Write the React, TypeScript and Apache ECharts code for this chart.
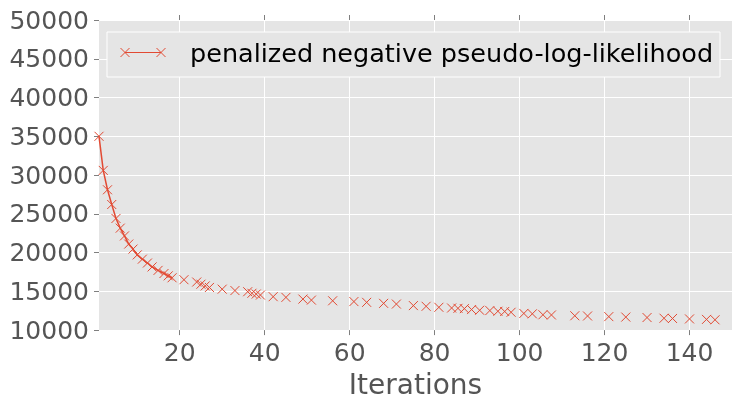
import React, { useEffect, useRef } from "react";
import * as echarts from "echarts";

const iterations = [1, 2, 3, 4, 5, 6, 7, 8, 9, 10, 11.2, 12.4, 13.5, 14.9, 16.3, 17.3, 18.2, 21, 24, 25, 26, 27, 30, 33, 36, 37, 38, 39, 42, 45, 49, 51, 56, 61, 64, 68, 71, 75, 78, 81, 84, 85.5, 87, 88.7, 90.6, 93, 94.9, 96.5, 98, 101, 103, 105.5, 107.5, 113, 116, 121, 125, 130, 134, 136, 140, 144, 146];
const likelihood = [35000, 30600, 28100, 26200, 24400, 23150, 22150, 21100, 20450, 19700, 19150, 18650, 18150, 17700, 17300, 17000, 16750, 16500, 16200, 15920, 15700, 15500, 15280, 15100, 14950, 14750, 14650, 14520, 14310, 14220, 14000, 13870, 13780, 13680, 13580, 13450, 13360, 13160, 13070, 12940, 12850, 12810, 12770, 12650, 12560, 12520, 12430, 12400, 12300, 12150, 12100, 11980, 11950, 11850, 11820, 11740, 11680, 11620, 11530, 11500, 11440, 11380, 11330];
const lineUntilIteration = 18.2;
const xTicks = [20, 40, 60, 80, 100, 120, 140];
const seriesName = "penalized negative pseudo-log-likelihood";
const xLabel = "Iterations";

const RED = "#E24A33";
const FONT = "DejaVu Sans";
const CROSS = "path://M0,0L10,10M10,0L0,10";

export default function App() {
  const ref = useRef<HTMLDivElement>(null);
  useEffect(() => {
    if (!ref.current) return;
    const chart = echarts.init(ref.current, undefined, { renderer: "svg" });
    const points = iterations.map((x, i) => [x, likelihood[i]]);
    const linePoints = points.filter((p) => p[0] <= lineUntilIteration);
    const s = 4.5;
    const cross = (cx: number, cy: number) => [
      { type: "line", z: 101, shape: { x1: cx - s, y1: cy - s, x2: cx + s, y2: cy + s }, style: { stroke: RED, fill: "none", lineWidth: 1 } },
      { type: "line", z: 101, shape: { x1: cx - s, y1: cy + s, x2: cx + s, y2: cy - s }, style: { stroke: RED, fill: "none", lineWidth: 1 } },
    ];
    chart.setOption({
      animation: false,
      grid: { left: 99, right: -1, top: 20, bottom: 70, show: true, backgroundColor: "#E5E5E5", borderWidth: 0 },
      xAxis: [
        {
          type: "value",
          min: 1,
          max: 150,
          position: "bottom",
          axisLine: { show: false },
          axisTick: { show: true, inside: false, length: 5, customValues: xTicks, lineStyle: { color: "#7f7f7f", width: 1 } },
          axisLabel: { customValues: xTicks, color: "#555555", fontSize: 25, fontFamily: FONT, margin: 10 },
          splitLine: { show: true, lineStyle: { color: "#ffffff", width: 1 } },
          name: xLabel,
          nameLocation: "middle",
          nameGap: 36,
          nameTextStyle: { color: "#555555", fontSize: 28, fontFamily: FONT },
        },
        {
          type: "value",
          min: 1,
          max: 150,
          position: "top",
          axisLine: { show: false },
          axisTick: { show: true, inside: false, length: 5, customValues: xTicks, lineStyle: { color: "#7f7f7f", width: 1 } },
          axisLabel: { show: false, customValues: xTicks },
          splitLine: { show: false },
        },
      ],
      yAxis: {
        type: "value",
        min: 10000,
        max: 50000,
        interval: 5000,
        axisLine: { show: false },
        axisTick: { show: true, inside: false, length: 5, lineStyle: { color: "#7f7f7f", width: 1 } },
        axisLabel: { color: "#555555", fontSize: 25, fontFamily: FONT, margin: 10, formatter: (v: number) => String(v) },
        splitLine: { show: true, lineStyle: { color: "#ffffff", width: 1 } },
      },
      series: [
        {
          type: "line",
          data: linePoints,
          showSymbol: false,
          color: RED,
          lineStyle: { color: RED, width: 1.5 },
          clip: true,
          silent: true,
          z: 3,
        },
        {
          type: "scatter",
          data: points,
          clip: true,
          silent: true,
          z: 4,
          symbol: CROSS,
          symbolSize: 9,
          itemStyle: { color: "rgba(0,0,0,0)", borderColor: RED, borderWidth: 1, opacity: 1 },
        },
      ],
      graphic: [
        { type: "rect", z: 100, shape: { x: 107, y: 32, width: 613, height: 45 }, style: { fill: "#E5E5E5", stroke: "#ffffff", lineWidth: 1 } },
        { type: "line", z: 101, shape: { x1: 125, y1: 52.5, x2: 161, y2: 52.5 }, style: { stroke: RED, lineWidth: 1.2 } },
        ...cross(125, 52.5),
        ...cross(161, 52.5),
        { type: "text", z: 101, x: 190, y: 53, style: { text: seriesName, fill: "#000000", fontSize: 25.5, fontFamily: FONT, verticalAlign: "middle", align: "left" } },
      ],
    });
    return () => chart.dispose();
  }, []);
  return <div ref={ref} style={{ position: "fixed", left: 0, top: 0, width: 732, height: 403 }} />;
}
